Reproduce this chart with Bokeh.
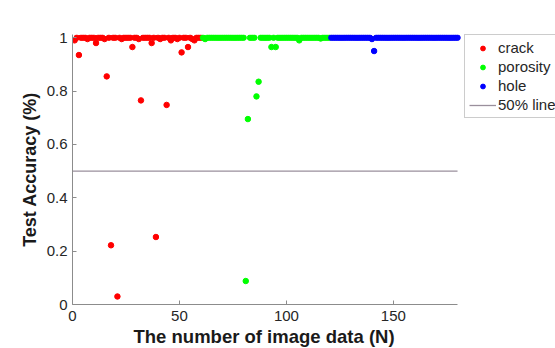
from bokeh.plotting import figure
from bokeh.embed import file_html
from bokeh.resources import INLINE
from bokeh.models import Range1d, FixedTicker, Legend, LegendItem, Title

# ---------------- data ----------------
crack_x = list(range(1, 61))
crack_y = [0.99, 1, 0.935, 1, 1, 1, 0.995, 1, 1, 1,
           0.98, 1, 1, 1, 0.995, 0.855, 1, 0.222, 1, 1,
           0.03, 1, 0.995, 1, 1, 1, 1, 0.965, 1, 1,
           0.995, 0.765, 1, 1, 1, 1, 0.98, 1, 0.253, 1,
           0.995, 1, 1, 0.748, 1, 0.99, 1, 1, 0.995, 1,
           0.945, 1, 1, 0.965, 1, 0.995, 0.99, 1, 1, 1]

porosity_x = list(range(61, 121))
porosity_y = [1, 0.995, 1, 1, 1, 1, 1, 1, 1, 1,
              1, 1, 1, 1, 1, 1, 1, 1, 1, 1,
              0.088, 0.695, 1, 1, 1, 0.78, 0.835, 1, 1, 1,
              1, 1, 0.965, 1, 0.965, 1, 1, 1, 1, 1,
              1, 1, 1, 1, 1, 0.99, 1, 1, 1, 1,
              1, 1, 1, 1, 1, 0.997, 1, 1, 1, 1]

hole_x = list(range(121, 181))
hole_y = [1, 1, 1, 1, 1, 1, 1, 1, 1, 1,
          1, 1, 1, 1, 1, 1, 1, 1, 1, 0.995,
          0.95, 1, 1, 1, 1, 1, 1, 1, 1, 1,
          1, 1, 1, 1, 1, 1, 1, 1, 1, 1,
          1, 1, 1, 1, 1, 1, 1, 1, 1, 1,
          1, 1, 1, 1, 1, 1, 1, 1, 1, 1]

fifty_x = [0, 180]
fifty_y = [0.5, 0.5]

x_limits = (0, 180)
x_ticks = [0, 50, 100, 150]
y_ticks = [0, 0.2, 0.4, 0.6, 0.8, 1]
y_tick_labels = ["0", "0.2", "0.4", "0.6", "0.8", "1"]

series_labels = ["crack", "porosity", "hole", "50% line"]
x_label = "The number of image data (N)"
y_label = "Test Accuracy (%)"

# ---------------- figure ----------------
FONT = "Liberation Sans"
AXIS_COL = "#8c8c8c"
TEXT_COL = "#262626"

# frame spans to the right edge so the legend (outside the axes) is not clipped;
# the x axis itself is bounded to the data limits
p = figure(width=555, height=348, output_backend="svg", toolbar_location=None,
           x_range=Range1d(0, 225.8), y_range=Range1d(0, 1.012),
           min_border_left=72, min_border_right=0,
           min_border_top=34, min_border_bottom=44)
p.outline_line_color = None
p.xgrid.visible = False
p.ygrid.visible = False
p.background_fill_color = "white"
p.border_fill_color = "white"

r_line = p.line(fifty_x, fifty_y, line_color="#9a8f9c", line_width=1.3)
r_crack = p.scatter(crack_x, crack_y, size=5.5, fill_color="#ff0000", line_color="#ff0000")
r_por = p.scatter(porosity_x, porosity_y, size=5.5, fill_color="#00ff00", line_color="#00ff00")
r_hole = p.scatter(hole_x, hole_y, size=5.5, fill_color="#0000ff", line_color="#0000ff")

for ax in (p.xaxis[0], p.yaxis[0]):
    ax.axis_line_color = AXIS_COL
    ax.major_tick_line_color = AXIS_COL
    ax.major_tick_in = 4
    ax.major_tick_out = 0
    ax.minor_tick_line_color = None
    ax.major_label_text_font = FONT
    ax.major_label_text_font_size = "15px"
    ax.major_label_text_color = TEXT_COL
    ax.axis_label_text_font = FONT
    ax.axis_label_text_font_size = "18px"
    ax.axis_label_text_font_style = "bold"
    ax.axis_label_text_color = "#1a1a1a"

p.xaxis[0].ticker = FixedTicker(ticks=x_ticks)
p.xaxis[0].bounds = x_limits
p.xaxis[0].major_label_standoff = 6

p.yaxis[0].ticker = FixedTicker(ticks=y_ticks)
p.yaxis[0].major_label_overrides = {t: s for t, s in zip(y_ticks, y_tick_labels)}
p.yaxis[0].axis_label = y_label
p.yaxis[0].major_label_standoff = 5
p.yaxis[0].axis_label_standoff = 4

# x-axis label, centred under the bounded axis (0..180)
xlab = Title(text=x_label, align="left", offset=61, standoff=0,
             text_font=FONT, text_font_size="18.5px", text_font_style="bold",
             text_color="#1a1a1a")
p.add_layout(xlab, "below")

legend = Legend(items=[
    LegendItem(label=series_labels[0], renderers=[r_crack]),
    LegendItem(label=series_labels[1], renderers=[r_por]),
    LegendItem(label=series_labels[2], renderers=[r_hole]),
    LegendItem(label=series_labels[3], renderers=[r_line]),
], location=(392, 186))
legend.margin = 0
legend.padding = 4
legend.spacing = 2
legend.glyph_height = 12
legend.glyph_width = 27
legend.label_height = 17
legend.label_standoff = 2
legend.label_text_font = FONT
legend.label_text_font_size = "15px"
legend.label_text_color = TEXT_COL
legend.border_line_color = "#999999"
legend.border_line_width = 1
legend.background_fill_color = "white"
legend.background_fill_alpha = 1
p.add_layout(legend, "center")

open("out.html", "w").write(file_html(p, INLINE))
